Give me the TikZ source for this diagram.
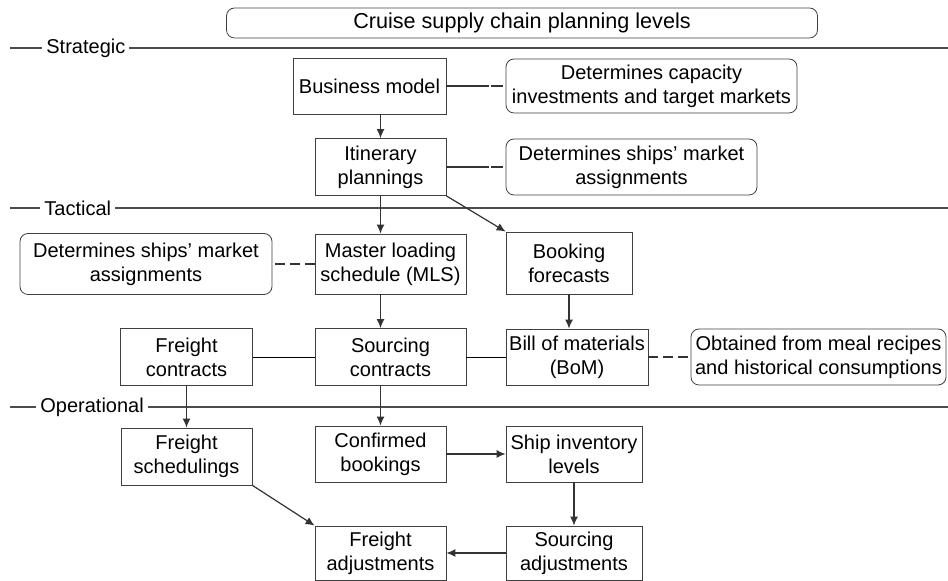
\documentclass[tikz,border=0pt]{standalone}
\usepackage{fontspec}
\setmainfont{Liberation Sans}
\usepackage{tikz}
\usetikzlibrary{arrows.meta, positioning, calc}

\begin{document}
\begin{tikzpicture}[
    x=0.5pt, y=-0.5pt,
    font=\fontsize{10}{12}\selectfont,
    >=Latex,
    box/.style={draw=black!75, align=center, inner sep=1pt},
    note/.style={box, rounded corners=4pt},
    level/.style={draw=black!70, line width=0.8pt},
    lvlname/.style={fill=white, inner sep=2pt, anchor=west},
    line/.style={-{Latex[length=4.5pt,width=4pt]}, draw=black!80, semithick},
    link/.style={draw=black!80, semithick, dash pattern=on 21.5pt off 0.8pt on 6pt},
    dlink/.style={draw=black!80, semithick, dash pattern=on 5pt off 2.5pt}
]
\useasboundingbox (0,0) rectangle (948,581);

% Title
\node[note, minimum width=295.5pt, minimum height=15pt, font=\fontsize{10.8}{12}\selectfont] (title) at (522,23) {Cruise supply chain planning levels};

% Levels
\draw[level] (10,48) -- (948,48);
\draw[level] (10,208) -- (948,208);
\draw[level] (10,407) -- (948,407);
\node[lvlname] (strat) at (42,48) {Strategic};
\node[lvlname] (tact) at (40,208) {Tactical};
\node[lvlname] (oper) at (36,407) {Operational};

% Strategic
\node[box, minimum width=76.5pt, minimum height=28pt] (bm) at (369.5,86) {Business model};
\node[note, minimum width=145.5pt, minimum height=27pt] (capnote) at (651.5,86) {Determines capacity\\investments and target markets};
\node[box, minimum width=65.5pt, minimum height=28.5pt] (itin) at (380.5,167) {Itinerary\\plannings};
\node[note, minimum width=125.5pt, minimum height=28pt] (shipnote) at (631.5,167) {Determines ships' market\\assignments};

% Tactical
\node[box, minimum width=75.5pt, minimum height=30pt] (mls) at (390.5,264) {Master loading\\schedule (MLS)};
\node[note, minimum width=126pt, minimum height=30.5pt] (mktnote) at (146,264) {Determines ships' market\\assignments};
\node[box, minimum width=63pt, minimum height=31pt] (book) at (569,263) {Booking\\forecasts};
\node[box, minimum width=66pt, minimum height=28.5pt] (fcon) at (186.5,357) {Freight\\contracts};
\node[box, minimum width=75.5pt, minimum height=28.5pt] (scon) at (390.5,357) {Sourcing\\contracts};
\node[box, minimum width=71pt, minimum height=28pt] (bom) at (577,357) {Bill of materials\\(BoM)};
\node[note, minimum width=127.5pt, minimum height=28pt] (recnote) at (818.5,357) {Obtained from meal recipes\\and historical consumptions};

% Operational
\node[box, minimum width=65.5pt, minimum height=28.5pt] (fsch) at (186.5,456.5) {Freight\\schedulings};
\node[box, minimum width=65.5pt, minimum height=28pt] (cbk) at (380.5,454) {Confirmed\\bookings};
\node[box, minimum width=68pt, minimum height=28pt] (sinv) at (574,454) {Ship inventory\\levels};
\node[box, minimum width=65.5pt, minimum height=27pt] (fadj) at (380.5,553) {Freight\\adjustments};
\node[box, minimum width=68pt, minimum height=27pt] (sadj) at (574,553) {Sourcing\\adjustments};

% Connections
\draw[link] (bm) -- (capnote);
\draw[link] (itin) -- (shipnote);
\draw[dlink] (mls) -- (mktnote);
\draw[dlink] (bom) -- (recnote);

\draw[line] (bm.south -| itin) -- (itin);
\draw[line] (itin) -- (itin |- mls.north);
\draw[line] (itin.south east) -- (book.north west);
\draw[line] (mls.south -| itin) -- (itin |- scon.north);
\draw[line] (book.south) -- (book.south |- bom.north);

\draw (fcon) -- (scon);
\draw (scon) -- (bom);

\draw[line] (fcon) -- (fsch);
\draw[line] (scon.south -| cbk) -- (cbk);
\draw[line] (cbk) -- (sinv);
\draw[line] (sinv) -- (sadj);
\draw[line] (sadj) -- (fadj);
\draw[line] (fsch.south east) -- (fadj.north west);

\end{tikzpicture}
\end{document}
